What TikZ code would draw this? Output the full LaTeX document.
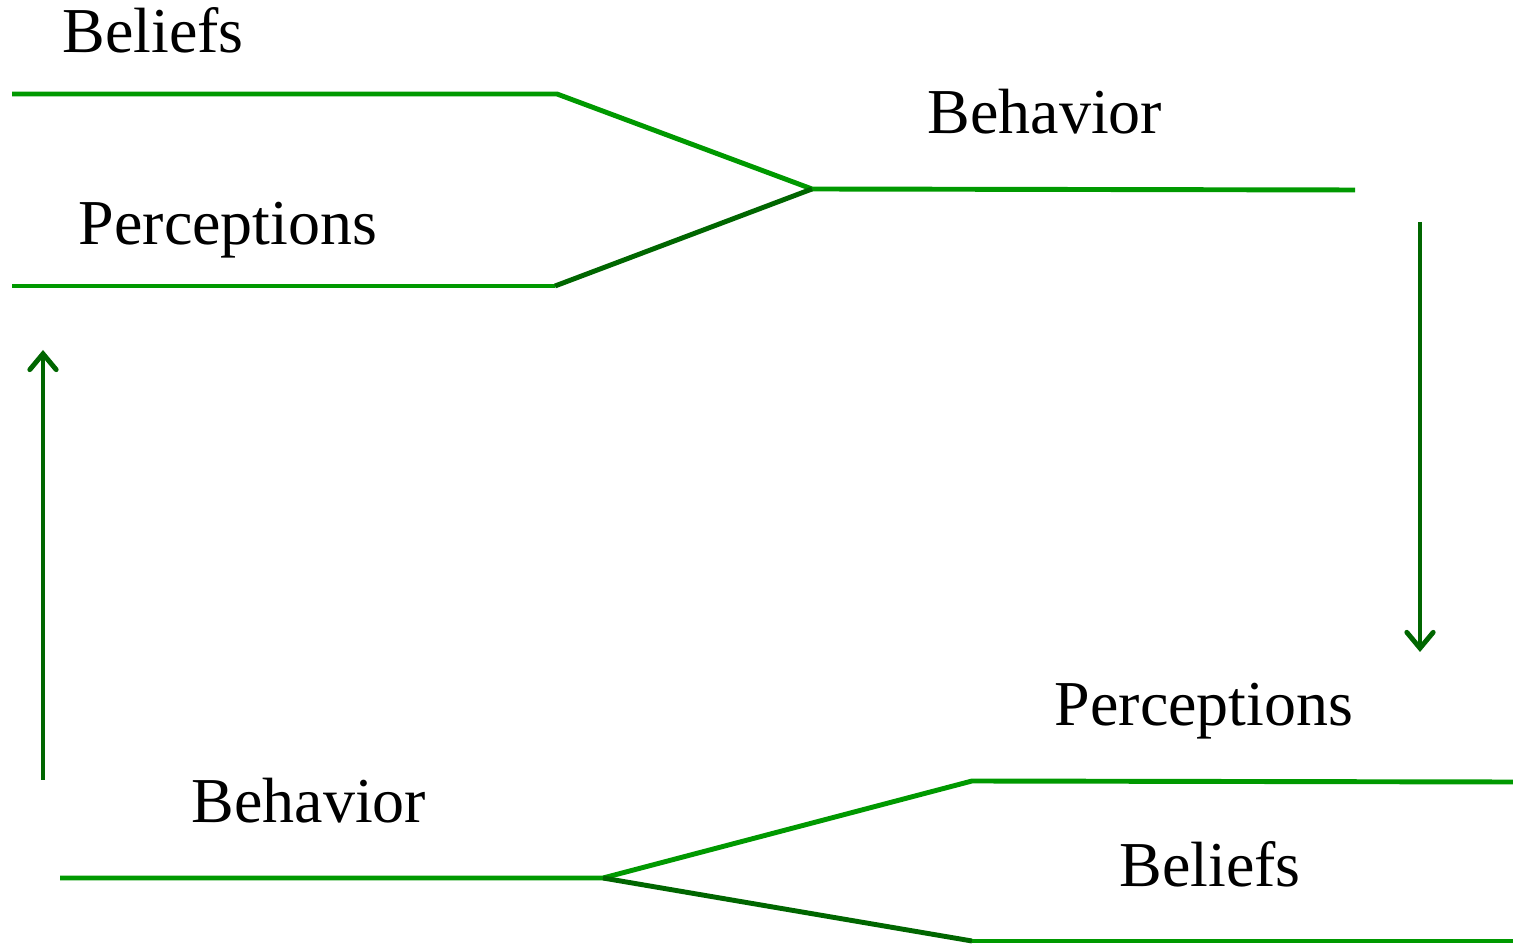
\documentclass[tikz,border=0pt]{standalone}
\usepackage{fontspec}
\setmainfont{Liberation Serif}
\usetikzlibrary{arrows.meta}
\usepackage{xcolor}
\definecolor{lightgreen}{HTML}{009900}
\definecolor{darkgreen}{HTML}{006600}

\begin{document}
\begin{tikzpicture}[
  % Label Styles
  lbl/.style={anchor=base, inner sep=0pt, font=\fontsize{36.4}{40}\selectfont},
  % Line Styles
  lightline/.style={line width=2.8pt, lightgreen},
  darkline/.style={line width=2.8pt, darkgreen},
  looparrow/.style={line width=2.8pt, darkgreen, -{Straight Barb[length=9pt, width=15pt, line cap=round]}}
]
\useasboundingbox (0,0) rectangle (30.26,18.88);

% Upper fork
\coordinate (B_0) at (0.24,17.00);
\coordinate (B_1) at (11.14,17.00);
\coordinate (P_0) at (0.24,13.16);
\coordinate (P_1) at (11.10,13.16);
\coordinate (J_0) at (16.24,15.10);
\coordinate (H_0) at (27.10,15.08);

\node[lbl] (Bel_0) at (3.06,17.82) {Beliefs};
\node[lbl] (Per_0) at (4.56,13.98) {Perceptions};
\node[lbl] (Beh_0) at (20.90,16.20) {Behavior};

\draw[lightline] (B_0) -- (B_1) -- (J_0) -- (H_0);
\draw[lightline] (P_0) -- (P_1);
\draw[darkline] (P_1) -- (J_0);

% Lower fork
\coordinate (H_1) at (1.20,1.32);
\coordinate (J_1) at (12.06,1.32);
\coordinate (P_2) at (19.44,3.26);
\coordinate (P_3) at (30.26,3.24);
\coordinate (B_2) at (19.44,0.06);
\coordinate (B_3) at (30.26,0.06);

\node[lbl] (Beh_1) at (6.18,2.44) {Behavior};
\node[lbl] (Per_1) at (24.08,4.36) {Perceptions};
\node[lbl] (Bel_1) at (24.20,1.16) {Beliefs};

\draw[lightline] (H_1) -- (J_1) -- (P_2) -- (P_3);
\draw[darkline] (J_1) -- (B_2);
\draw[lightline] (B_2) -- (B_3);

% Loop arrows
\coordinate (R_0) at (28.40,14.44);
\coordinate (R_1) at (28.40,5.84);
\coordinate (L_0) at (0.86,3.28);
\coordinate (L_1) at (0.86,11.88);

\draw[looparrow] (R_0) -- (R_1);
\draw[looparrow] (L_0) -- (L_1);

\end{tikzpicture}
\end{document}
